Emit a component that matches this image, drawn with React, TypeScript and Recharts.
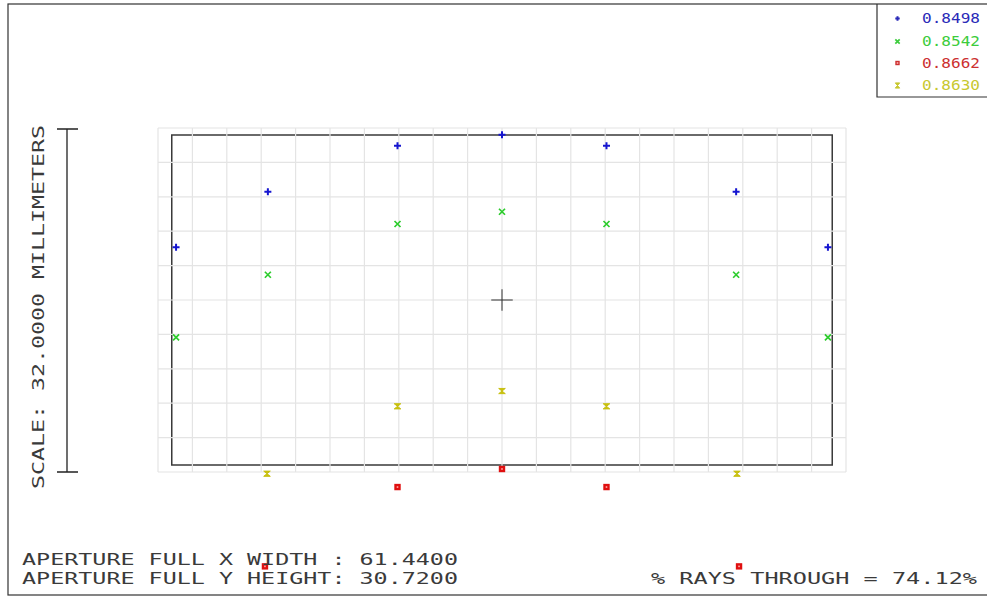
import { ScatterChart, Scatter, XAxis, YAxis, ReferenceLine, ReferenceArea } from 'recharts'

// footprint points in millimeters, one array per wavelength/field
const fieldBlue = [
    { x: -30.32, y: 4.9 },
    { x: -21.78, y: 10.07 },
    { x: -9.72, y: 14.35 },
    { x: 0, y: 15.38 },
    { x: 9.72, y: 14.35 },
    { x: 21.78, y: 10.07 },
    { x: 30.32, y: 4.9 },
]

const fieldGreen = [
    { x: -30.32, y: -3.47 },
    { x: -21.78, y: 2.35 },
    { x: -9.72, y: 7.07 },
    { x: 0, y: 8.21 },
    { x: 9.72, y: 7.07 },
    { x: 21.78, y: 2.35 },
    { x: 30.32, y: -3.47 },
]

const fieldRed = [
    { x: -22.05, y: -24.78 },
    { x: -9.72, y: -17.4 },
    { x: 0, y: -15.72 },
    { x: 9.72, y: -17.4 },
    { x: 22.05, y: -24.78 },
]

const fieldYellow = [
    { x: -21.86, y: -16.16 },
    { x: -9.72, y: -9.89 },
    { x: 0, y: -8.47 },
    { x: 9.72, y: -9.89 },
    { x: 21.86, y: -16.16 },
]

const legendLabels = ['0.8498', '0.8542', '0.8662', '0.8630']

const gridX = [
    -32, -28.8, -25.6, -22.4, -19.2, -16, -12.8, -9.6, -6.4, -3.2, 0, 3.2, 6.4, 9.6, 12.8, 16, 19.2, 22.4,
    25.6, 28.8, 32,
]
const gridY = [-16, -12.8, -9.6, -6.4, -3.2, 0, 3.2, 6.4, 9.6, 12.8, 16]

const apertureX = 61.44
const apertureY = 30.72

const BLUE = '#1515d0'
const GREEN = '#2ccc2c'
const RED = '#e01010'
const YELLOW = '#c8c010'
const FONT = '"DejaVu Sans Mono", monospace'
const TEXT = '#3a3a3a'

const Plus = ({ cx, cy, color = BLUE, s = 3.5 }: any) => (
    <path d={`M${cx - s},${cy}h${2 * s}M${cx},${cy - s}v${2 * s}`} stroke={color} strokeWidth={2} />
)

const Cross = ({ cx, cy, color = GREEN, s = 3 }: any) => (
    <path
        d={`M${cx - s},${cy - s}L${cx + s},${cy + s}M${cx - s},${cy + s}L${cx + s},${cy - s}`}
        stroke={color}
        strokeWidth={1.7}
    />
)

const Square = ({ cx, cy, color = RED, s = 3.2 }: any) => (
    <g>
        <rect x={cx - s} y={cy - s} width={2 * s} height={2 * s} fill={color} />
        <rect x={cx - 0.8} y={cy - 0.8} width={1.6} height={1.6} fill="#ffb0b0" />
    </g>
)

const Hourglass = ({ cx, cy, color = YELLOW, s = 3.3 }: any) => (
    <path
        d={`M${cx - s},${cy - 2.6}H${cx + s}L${cx - s},${cy + 2.6}H${cx + s}Z`}
        fill={color}
        stroke={color}
        strokeWidth={1}
    />
)

const legendColors = ['#2a2ab8', '#3ccc3c', '#cc3030', '#c8c830']
const legendMarks = [Plus, Cross, Square, Hourglass]

export default function App() {
    return (
        <div style={{ position: 'fixed', left: 0, top: 0, width: 987, height: 598, background: '#fff' }}>
            <ScatterChart width={987} height={598} margin={{ top: 128, right: 141, bottom: 18.5, left: 158 }}>
                <XAxis type="number" dataKey="x" domain={[-32, 32]} allowDataOverflow hide />
                <YAxis type="number" dataKey="y" domain={[-26, 16]} allowDataOverflow hide />
                {gridX.map((v) => (
                    <ReferenceLine
                        key={'gx' + v}
                        segment={[
                            { x: v, y: -16 },
                            { x: v, y: 16 },
                        ]}
                        stroke="#e4e4e4"
                        strokeWidth={1.2}
                    />
                ))}
                {gridY.map((v) => (
                    <ReferenceLine
                        key={'gy' + v}
                        segment={[
                            { x: -32, y: v },
                            { x: 32, y: v },
                        ]}
                        stroke="#e4e4e4"
                        strokeWidth={1.2}
                    />
                ))}
                <ReferenceArea
                    x1={-apertureX / 2}
                    x2={apertureX / 2}
                    y1={-apertureY / 2}
                    y2={apertureY / 2}
                    fill="none"
                    stroke="#3a3a3a"
                    strokeWidth={1.5}
                />
                <ReferenceLine
                    segment={[
                        { x: -1, y: 0 },
                        { x: 1, y: 0 },
                    ]}
                    stroke="#333"
                />
                <ReferenceLine
                    segment={[
                        { x: 0, y: -1 },
                        { x: 0, y: 1 },
                    ]}
                    stroke="#333"
                />
                <Scatter data={fieldBlue} isAnimationActive={false} shape={(p: any) => <Plus cx={p.cx} cy={p.cy} />} />
                <Scatter data={fieldGreen} isAnimationActive={false} shape={(p: any) => <Cross cx={p.cx} cy={p.cy} />} />
                <Scatter data={fieldRed} isAnimationActive={false} shape={(p: any) => <Square cx={p.cx} cy={p.cy} />} />
                <Scatter
                    data={fieldYellow}
                    isAnimationActive={false}
                    shape={(p: any) => <Hourglass cx={p.cx} cy={p.cy} />}
                />
            </ScatterChart>

            <svg
                width={987}
                height={598}
                style={{ position: 'absolute', left: 0, top: 0, pointerEvents: 'none' }}
            >
                <rect x={8} y={4} width={990} height={591} fill="none" stroke="#333" strokeWidth={1.2} />
                <path d="M877,4V97H990" fill="none" stroke="#333" strokeWidth={1.2} />

                {legendLabels.map((label, i) => {
                    const Mark = legendMarks[i]
                    const y = [18.5, 41.5, 63, 85.5][i]
                    return (
                        <g key={label}>
                            <Mark cx={897.5} cy={y} color={legendColors[i]} s={2.2} />
                            <text
                                x={922}
                                y={y + 4.5}
                                fontFamily={FONT}
                                fontSize={14.5}
                                fill={legendColors[i]}
                                textLength={58}
                                lengthAdjust="spacingAndGlyphs"
                            >
                                {label}
                            </text>
                        </g>
                    )
                })}

                <path d="M67,129V472M57,129H78M57,472H78" stroke="#222" strokeWidth={1.3} fill="none" />
                <text
                    transform="translate(44,489) rotate(-90)"
                    fontFamily={FONT}
                    fontSize={16.5}
                    fill={TEXT}
                    textLength={364}
                    lengthAdjust="spacingAndGlyphs"
                >
                    SCALE: 32.0000 MILLIMETERS
                </text>

                <text
                    x={22}
                    y={565}
                    fontFamily={FONT}
                    fontSize={15.5}
                    fill={TEXT}
                    textLength={436}
                    lengthAdjust="spacingAndGlyphs"
                    style={{ whiteSpace: 'pre' }}
                >
                    APERTURE FULL X WIDTH : 61.4400
                </text>
                <text
                    x={22}
                    y={583.5}
                    fontFamily={FONT}
                    fontSize={15.5}
                    fill={TEXT}
                    textLength={436}
                    lengthAdjust="spacingAndGlyphs"
                    style={{ whiteSpace: 'pre' }}
                >
                    APERTURE FULL Y HEIGHT: 30.7200
                </text>
                <text
                    x={651}
                    y={583.5}
                    fontFamily={FONT}
                    fontSize={15.5}
                    fill={TEXT}
                    textLength={326}
                    lengthAdjust="spacingAndGlyphs"
                    style={{ whiteSpace: 'pre' }}
                >
                    % RAYS THROUGH = 74.12%
                </text>
            </svg>
        </div>
    )
}
